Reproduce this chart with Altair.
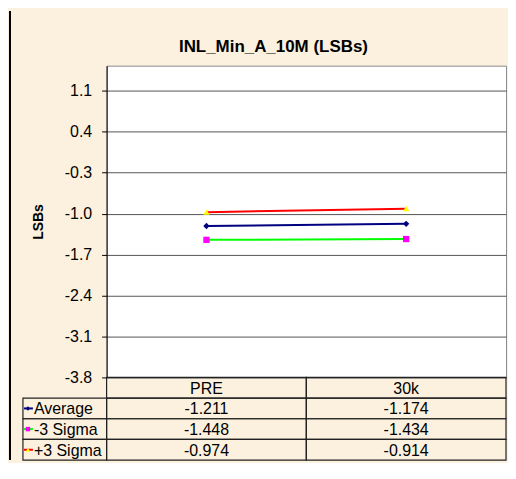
import altair as alt
import pandas as pd

categories = ["PRE", "30k"]
series = ["Average", "-3 Sigma", "+3 Sigma"]
average = [-1.211, -1.174]
minus3 = [-1.448, -1.434]
plus3 = [-0.974, -0.914]
y_ticks = [1.1, 0.4, -0.3, -1.0, -1.7, -2.4, -3.1, -3.8]
table_rows = ["hdr"] + series

line_colors = ["#000080", "#00FF00", "#FF0000"]
marker_colors = ["#000080", "#FF00FF", "#FFFF00"]
marker_shapes = ["diamond", "square", "triangle-up"]

values = {"Average": average, "-3 Sigma": minus3, "+3 Sigma": plus3}

rows = []
for s in series:
    for c, v in zip(categories, values[s]):
        rows.append({"series": s, "cat": c, "value": v})
df = pd.DataFrame(rows)

cells = []
for c in categories:
    cells.append({"row": "hdr", "col": c, "text": c})
for s in series:
    for c, v in zip(categories, values[s]):
        cells.append({"row": s, "col": c, "text": f"{v:.3f}"})
cells_df = pd.DataFrame(cells)
legend_df = pd.DataFrame({"series": series, "row": series})

FONT = "Arial"
BG = "#FBF1DE"
TOP_H = 313
BOT_H = 83
W = 401

x_top = alt.X("cat:N", scale=alt.Scale(type="point", domain=categories, padding=0.5), axis=None)
y_top = alt.Y(
    "value:Q",
    scale=alt.Scale(domain=[-3.8, 1.53], nice=False, zero=False),
    axis=alt.Axis(
        values=y_ticks,
        title="LSBs",
        labelExpr="replace(format(datum.value, '.1f'), '\u2212', '-')",
        labelFont=FONT, labelFontSize=16, labelColor="black",
        tickColor="black", tickSize=5, labelPadding=10,
        domainColor="black", grid=True, gridColor="#555555", gridWidth=1,
        titleFont=FONT, titleFontSize=14, titleFontWeight="bold", titleColor="black",
        titlePadding=19,
    ),
)

line_color = alt.Color("series:N", scale=alt.Scale(domain=series, range=line_colors), legend=None)
mk_fill = alt.Fill("series:N", scale=alt.Scale(domain=series, range=marker_colors), legend=None)
mk_shape = alt.Shape("series:N", scale=alt.Scale(domain=series, range=marker_shapes), legend=None)

base = alt.Chart(df)
lines = base.mark_line(strokeWidth=2).encode(x=x_top, y=y_top, color=line_color, detail="series:N")
points = base.mark_point(filled=True, size=40, opacity=1).encode(
    x=x_top, y=y_top, fill=mk_fill, shape=mk_shape, stroke=alt.value("transparent"),
)

top = alt.layer(lines, points).properties(
    width=W, height=TOP_H,
    title=alt.Title("INL_Min_A_10M (LSBs)", font=FONT, fontSize=17, fontWeight="bold",
                    color="black", offset=10, dx=-33, anchor="middle"),
    view=alt.ViewBackground(fill="white", stroke="#8c8c8c", strokeWidth=1),
)

x_b = alt.X("col:N", scale=alt.Scale(type="band", domain=categories, paddingInner=0, paddingOuter=0), axis=None)
y_b = alt.Y("row:N", scale=alt.Scale(type="band", domain=table_rows, paddingInner=0, paddingOuter=0), axis=None)

cell_rects = alt.Chart(cells_df).mark_rect(fillOpacity=0, stroke="#222222", strokeWidth=1.2).encode(x=x_b, y=y_b)
cell_text = alt.Chart(cells_df).mark_text(font=FONT, fontSize=16, color="black", dy=1).encode(x=x_b, y=y_b, text="text:N")

leg_rects = alt.Chart(legend_df).mark_rect(fillOpacity=0, stroke="#222222", strokeWidth=1.2).encode(
    x=alt.value(-84), x2=alt.value(0), y=y_b
)
leg_text = alt.Chart(legend_df).mark_text(font=FONT, fontSize=16, color="black", align="left", dy=1).encode(
    x=alt.value(-73), y=y_b, text="row:N"
)
leg_lines = alt.Chart(legend_df).mark_rule(strokeWidth=2).encode(
    x=alt.value(-83), x2=alt.value(-74), y=y_b,
    color=alt.Color("series:N", scale=alt.Scale(domain=series, range=line_colors), legend=None),
)
leg_marks = alt.Chart(legend_df).mark_point(filled=True, size=20, opacity=1).encode(
    x=alt.value(-79), y=y_b, fill=mk_fill, shape=mk_shape, stroke=alt.value("transparent"),
)
# outer frame line on the left edge of the chart area
frame = alt.Chart(pd.DataFrame({"k": [0]})).mark_rule(color="black", strokeWidth=2).encode(
    x=alt.value(-97), y=alt.value(-(TOP_H + 55)), y2=alt.value(BOT_H)
)

bottom = alt.layer(frame, cell_rects, cell_text, leg_rects, leg_lines, leg_marks, leg_text).properties(
    width=W, height=BOT_H,
    view=alt.ViewBackground(stroke="transparent", fill="transparent"),
)

chart = alt.vconcat(top, bottom, spacing=0, bounds="flush").resolve_scale(
    x="independent", y="independent"
).properties(
    background=BG,
    padding={"left": 0, "top": 0, "right": 0, "bottom": 0},
)

chart.save("out.html", embed_options={"renderer": "svg", "actions": False})
